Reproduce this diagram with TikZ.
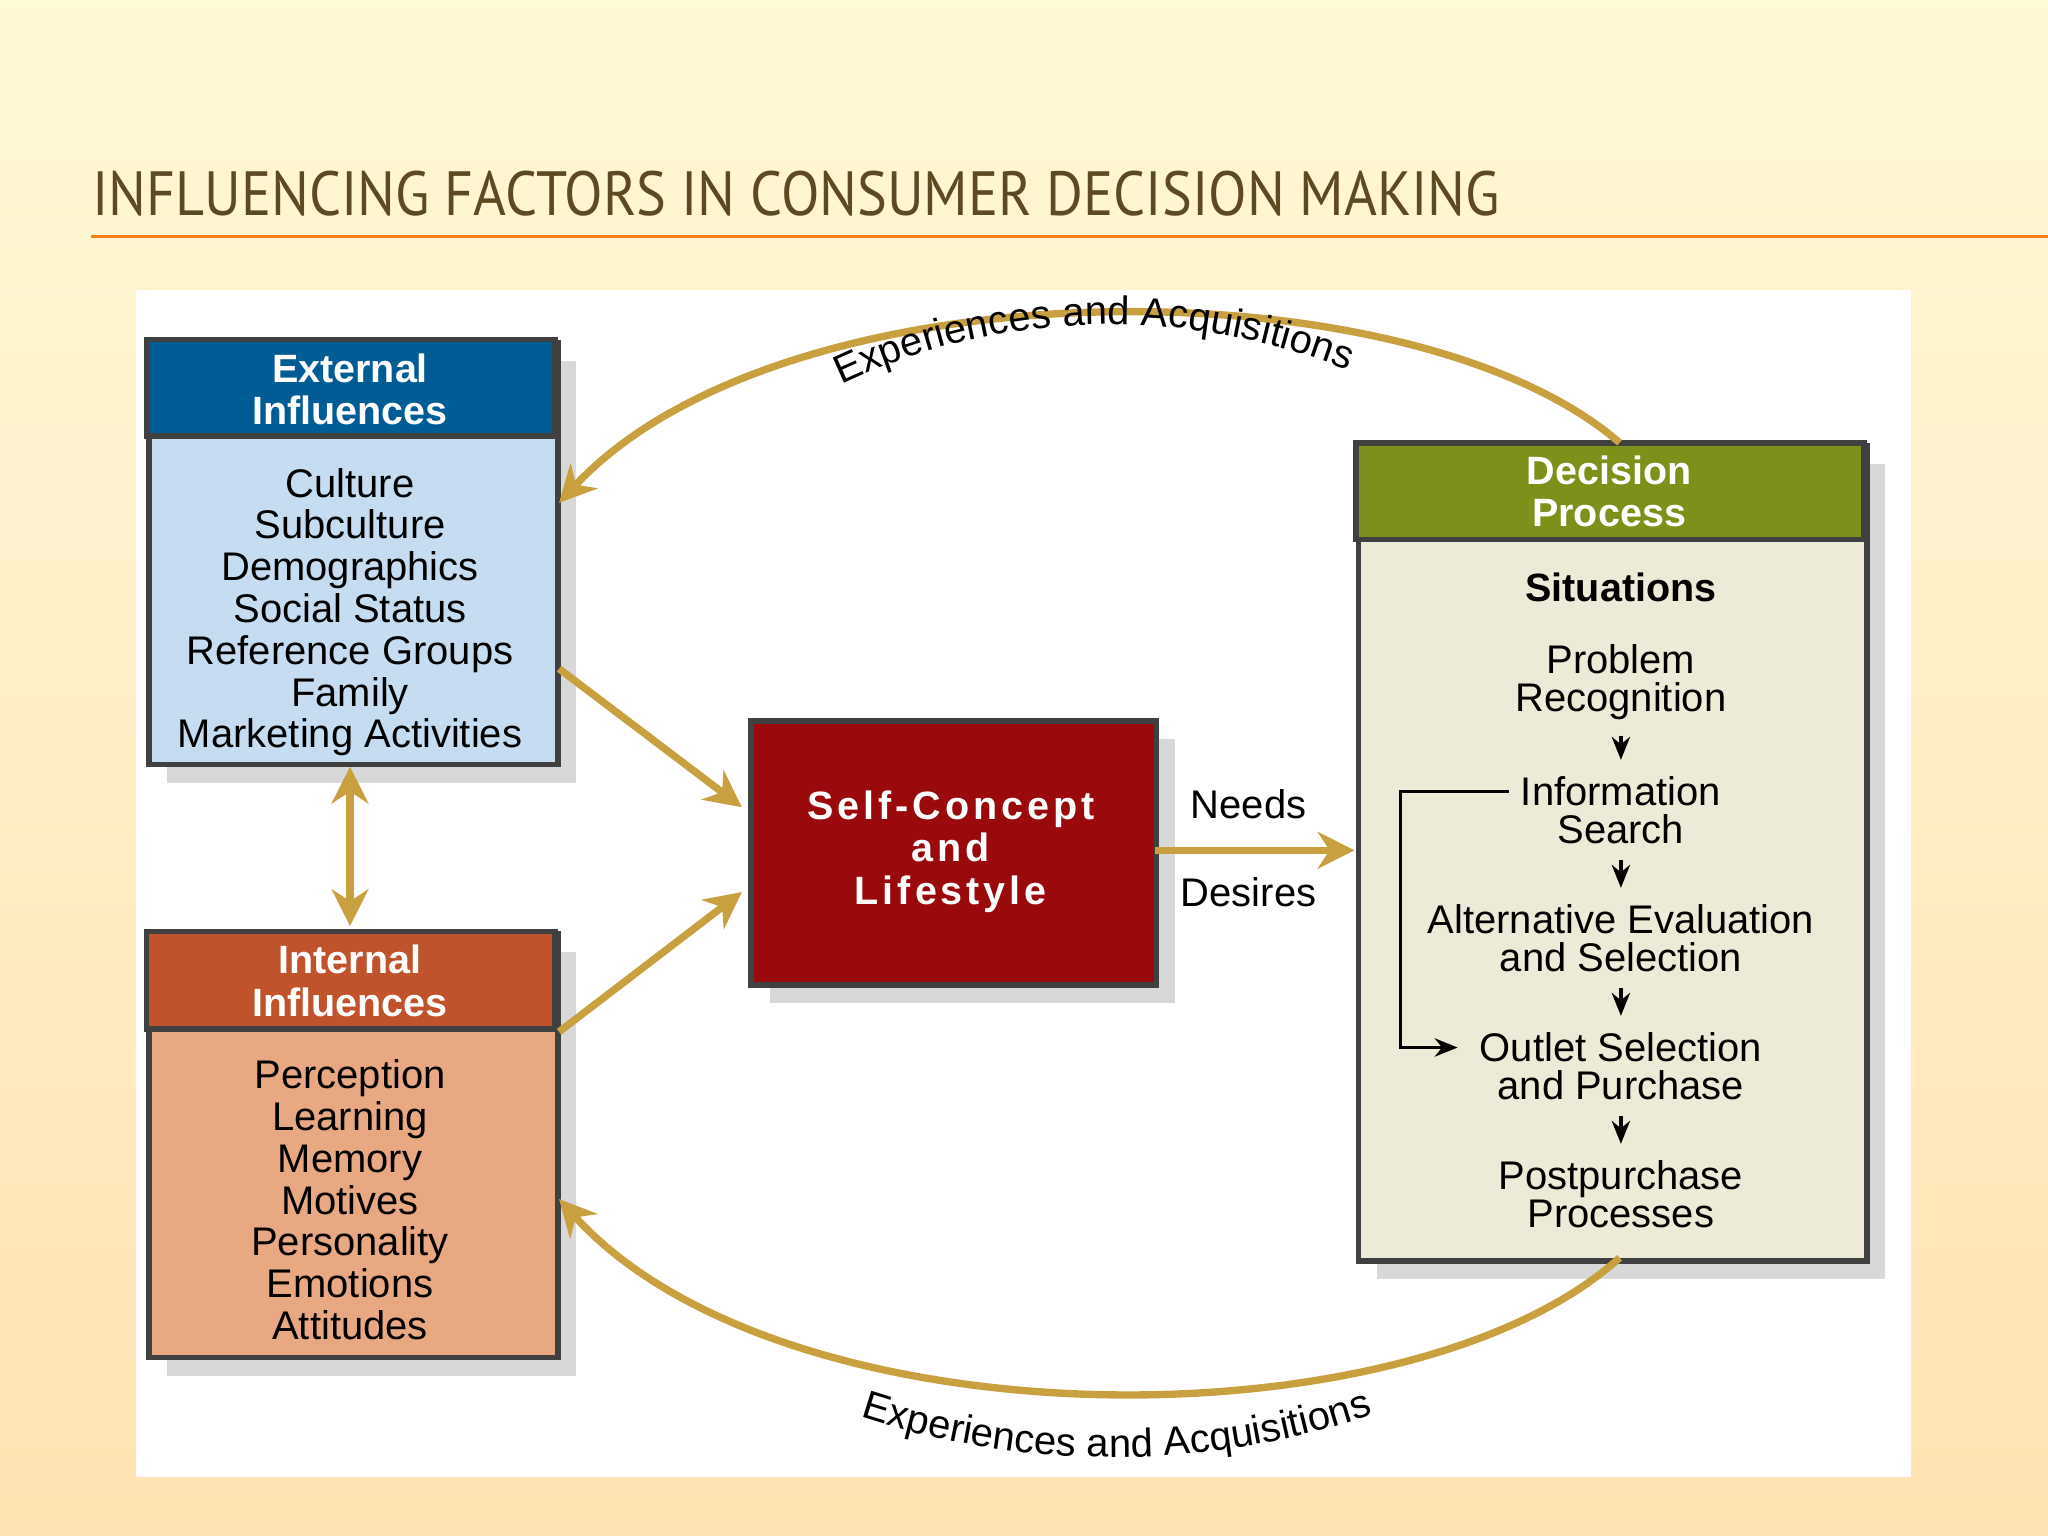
\documentclass[tikz,border=0pt]{standalone}
\usepackage{fontspec}
\setmainfont{Liberation Sans}
\newfontfamily\titlefont{PT Sans}
\usetikzlibrary{arrows.meta,shadows,decorations.text}
\definecolor{gold}{HTML}{C9A040}
\definecolor{extH}{HTML}{005C95}
\definecolor{extB}{HTML}{C6DCF1}
\definecolor{intH}{HTML}{C0522C}
\definecolor{intB}{HTML}{E8A982}
\definecolor{decH}{HTML}{7E901A}
\definecolor{decB}{HTML}{EDEAD7}
\definecolor{selfC}{HTML}{9A0A0C}
\definecolor{titleC}{HTML}{5E4A22}
\tikzset{
 box/.style={draw=black!75,line width=1.2pt,inner sep=0,anchor=north west,drop shadow={opacity=0.3,shadow xshift=4pt,shadow yshift=-4pt}},
 hdr/.style={draw=black!75,line width=1.2pt},
 htext/.style={text=white,font=\bfseries\fontsize{8.6}{9.2}\selectfont,align=center},
 btext/.style={font=\fontsize{8.7}{9.1}\selectfont,align=center},
 garrow/.style={draw=gold,line width=1.6pt,-{Stealth[length=8pt,width=8pt]}},
 darrow/.style={draw=black,line width=0.7pt,-{Stealth[length=5pt,width=4pt]}}
}
\begin{document}
\begin{tikzpicture}[x=0.01cm,y=-0.01cm]
\useasboundingbox (0,0) rectangle (1568,1176);
\shade[top color=yellow!12!white!95!orange,bottom color=yellow!25!orange!30] (0,0) rectangle (1568,1176);
\node[anchor=base west,text=titleC,font=\titlefont\fontsize{13.6}{16}\selectfont,xscale=0.9,inner sep=0] (title) at (70,165) {INFLUENCING FACTORS IN CONSUMER DECISION MAKING};
\coordinate (ul) at (70,181); \coordinate (ur) at (1568,181);
\draw[orange!80!brown,line width=0.8pt] (ul) -- (ur);
\fill[white] (104,222) rectangle (1463,1131);
% External
\node[box,fill=extB,minimum width=3.13cm,minimum height=3.23cm] (ext) at (112,260) {};
\fill[extH,hdr] (112,260) rectangle (425,334);
\node[htext] (extt) at (268,298) {External\\Influences};
\node[btext,anchor=north] (extb) at (268,346) {Culture\\Subculture\\Demographics\\Social Status\\Reference Groups\\Family\\Marketing Activities};
% Internal
\node[box,fill=intB,minimum width=3.13cm,minimum height=3.24cm] (int) at (112,713) {};
\fill[intH,hdr] (112,713) rectangle (425,788);
\node[htext] (intt) at (268,751) {Internal\\Influences};
\node[btext,anchor=north] (intb) at (268,799) {Perception\\Learning\\Memory\\Motives\\Personality\\Emotions\\Attitudes};
% Self
\node[box,fill=selfC,minimum width=3.10cm,minimum height=2.02cm] (self) at (573,550) {};
\node[text=white,font=\bfseries\fontsize{8.6}{9.2}\selectfont\addfontfeature{LetterSpace=10},align=center] (selft) at (728,652) {Self-Concept\\and\\Lifestyle};
% Decision
\node[box,fill=decB,minimum width=3.89cm,minimum height=6.24cm] (dec) at (1038,339) {};
\fill[decH,hdr] (1038,339) rectangle (1427,413);
\node[htext] (dect) at (1232,376) {Decision\\Process};
\node[font=\bfseries\fontsize{8.6}{9}\selectfont] (sit) at (1241,450) {Situations};
\node[btext,font=\fontsize{8.7}{8.3}\selectfont] (p1) at (1241,522) {Problem\\Recognition};
\node[btext,font=\fontsize{8.7}{8.3}\selectfont] (p2) at (1241,620) {Information\\Search};
\node[btext,font=\fontsize{8.7}{8.3}\selectfont] (p3) at (1241,718) {Alternative Evaluation\\and Selection};
\node[btext,font=\fontsize{8.7}{8.3}\selectfont] (p4) at (1241,816) {Outlet Selection\\and Purchase};
\node[btext,font=\fontsize{8.7}{8.3}\selectfont] (p5) at (1241,914) {Postpurchase\\Processes};
\draw[darrow] (p1.south) -- (p2.north);
\draw[darrow] (p2.south) -- (p3.north);
\draw[darrow] (p3.south) -- (p4.north);
\draw[darrow] (p4.south) -- (p5.north);
\coordinate (br1) at (1155,606); \coordinate (br2) at (1116,802);
\draw[darrow] (br1) -- (1072,606) -- (1072,802) -- (br2);
% gold arrows
\coordinate (e1) at (428,512); \coordinate (e2) at (568,618);
\coordinate (i1) at (428,790); \coordinate (i2) at (568,683);
\draw[garrow] (e1) -- (e2);
\draw[garrow] (i1) -- (i2);
\coordinate (d1) at (268,587); \coordinate (d2) at (268,709);
\draw[garrow,{Stealth[length=8pt,width=8pt]}-{Stealth[length=8pt,width=8pt]}] (d1) -- (d2);
\coordinate (n1) at (884,651); \coordinate (n2) at (1037,651);
\draw[garrow] (n1) -- (n2);
\node[btext] (needs) at (956,616) {Needs};
\node[btext] (desires) at (956,683) {Desires};
\coordinate (t1) at (1240,339); \coordinate (t2) at (428,385);
\draw[garrow] (t1) .. controls (1080,200) and (600,200) .. (t2);
\coordinate (b1) at (1240,963); \coordinate (b2) at (428,918);
\draw[garrow] (b1) .. controls (1080,1108) and (600,1108) .. (b2);
\path[decorate,decoration={text along path,text align=center,text={|\fontsize{8.7}{9}\selectfont|Experiences and Acquisitions}}] (625,304) .. controls (760,232) and (920,232) .. (1052,292);
\path[decorate,decoration={text along path,text align=center,text={|\fontsize{8.7}{9}\selectfont|Experiences and Acquisitions}}] (645,1080) .. controls (780,1128) and (930,1128) .. (1065,1078);
\end{tikzpicture}
\end{document}
